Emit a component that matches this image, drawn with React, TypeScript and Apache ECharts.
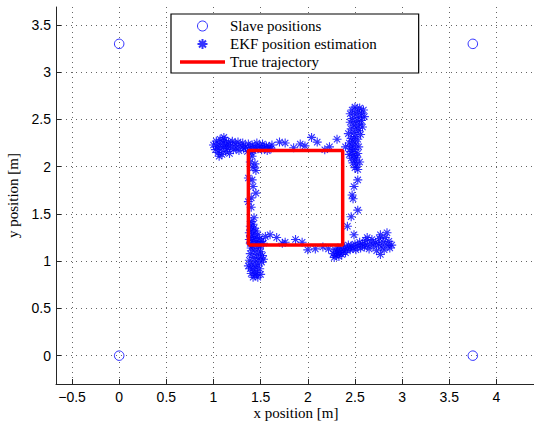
import React, { useEffect, useRef } from "react";
import * as echarts from "echarts";

const xTickValues = [-0.5, 0, 0.5, 1, 1.5, 2, 2.5, 3, 3.5, 4];
const yTickValues = [0, 0.5, 1, 1.5, 2, 2.5, 3, 3.5];

const slavePositions = [
  [0, 3.3],
  [3.75, 3.3],
  [0, 0],
  [3.75, 0],
];

const trueTrajectory = [
  [1.37, 1.17],
  [1.37, 2.17],
  [2.37, 2.17],
  [2.37, 1.17],
  [1.37, 1.17],
];

// top-left horizontal band
const ekfTopLeft = [
  [1.0, 2.23], [1.02, 2.18], [1.03, 2.27], [1.04, 2.21], [1.05, 2.15], [1.06, 2.24], [1.07, 2.29],
  [1.08, 2.19], [1.09, 2.13], [1.1, 2.25], [1.11, 2.21], [1.12, 2.28], [1.13, 2.16], [1.14, 2.23],
  [1.15, 2.19], [1.16, 2.26], [1.17, 2.14], [1.18, 2.22], [1.2, 2.27], [1.21, 2.18], [1.23, 2.24],
  [1.24, 2.2], [1.26, 2.26], [1.27, 2.17], [1.29, 2.22], [1.31, 2.25], [1.32, 2.19], [1.34, 2.21],
  [1.36, 2.16], [1.37, 2.24], [1.39, 2.2], [1.41, 2.23], [1.42, 2.17], [1.44, 2.21], [1.46, 2.25],
  [1.47, 2.19], [1.49, 2.22], [1.51, 2.18], [1.52, 2.24], [1.54, 2.2], [1.56, 2.22], [1.57, 2.17],
  [1.59, 2.21], [1.61, 2.19], [1.62, 2.23], [1.11, 2.31], [1.06, 2.11],
];
// sparse top
const ekfTop = [
  [1.7, 2.26], [1.76, 2.25], [1.85, 2.2], [1.92, 2.24], [1.97, 2.22], [2.04, 2.31], [2.1, 2.26],
  [2.18, 2.18], [2.23, 2.21], [2.31, 2.29], [2.4, 2.21],
];
// right upper vertical band
const ekfRightUpper = [
  [2.5, 2.63], [2.55, 2.62], [2.59, 2.6], [2.47, 2.6], [2.53, 2.58], [2.57, 2.56], [2.45, 2.56],
  [2.5, 2.55], [2.6, 2.53], [2.54, 2.52], [2.47, 2.51], [2.57, 2.49], [2.51, 2.48], [2.45, 2.47],
  [2.55, 2.45], [2.49, 2.44], [2.58, 2.42], [2.52, 2.41], [2.46, 2.4], [2.54, 2.38], [2.49, 2.36],
  [2.43, 2.35], [2.56, 2.34], [2.5, 2.32], [2.46, 2.3], [2.53, 2.29], [2.48, 2.27], [2.44, 2.25],
  [2.51, 2.24], [2.47, 2.22], [2.54, 2.21], [2.45, 2.19], [2.5, 2.18], [2.47, 2.16], [2.53, 2.14],
  [2.44, 2.13], [2.49, 2.12], [2.52, 2.1], [2.46, 2.09], [2.5, 2.07], [2.55, 2.05], [2.48, 2.04],
  [2.52, 2.02], [2.5, 1.99], [2.53, 1.97],
];
// right sparse vertical
const ekfRight = [
  [2.53, 1.86], [2.49, 1.79], [2.47, 1.7], [2.48, 1.66], [2.53, 1.54], [2.46, 1.47], [2.42, 1.37],
  [2.49, 1.28],
];
// bottom-right horizontal band
const ekfBottomRight = [
  [2.27, 1.08], [2.28, 1.04], [2.29, 1.12], [2.3, 1.06], [2.31, 1.1], [2.32, 1.14], [2.33, 1.05],
  [2.34, 1.09], [2.35, 1.13], [2.36, 1.07], [2.38, 1.11], [2.39, 1.15], [2.4, 1.09], [2.42, 1.13],
  [2.43, 1.17], [2.45, 1.12], [2.46, 1.16], [2.48, 1.14], [2.5, 1.18], [2.51, 1.12], [2.53, 1.16],
  [2.55, 1.2], [2.56, 1.14], [2.58, 1.18], [2.6, 1.15], [2.61, 1.22], [2.63, 1.17], [2.63, 1.25],
  [2.65, 1.13], [2.67, 1.19], [2.68, 1.23], [2.7, 1.16], [2.72, 1.2], [2.73, 1.11], [2.75, 1.18],
  [2.76, 1.24], [2.77, 1.07], [2.77, 1.28], [2.78, 1.15], [2.8, 1.2], [2.81, 1.12], [2.82, 1.25],
  [2.84, 1.3], [2.84, 1.17], [2.86, 1.21], [2.87, 1.14], [2.89, 1.17],
];
// bottom sparse
const ekfBottom = [
  [1.55, 1.26], [1.6, 1.28], [1.67, 1.25], [1.73, 1.19], [1.76, 1.2], [1.87, 1.23], [1.94, 1.2],
  [2.0, 1.12], [2.08, 1.13], [2.16, 1.15], [2.22, 1.13],
];
// bottom-left corner blob
const ekfCorner = [
  [1.4, 1.42], [1.42, 1.39], [1.39, 1.37], [1.43, 1.35], [1.4, 1.33], [1.45, 1.32], [1.38, 1.3],
  [1.42, 1.29], [1.47, 1.28], [1.4, 1.26], [1.44, 1.25], [1.49, 1.24], [1.38, 1.23], [1.42, 1.22],
  [1.46, 1.21], [1.51, 1.21], [1.39, 1.19], [1.44, 1.18], [1.48, 1.18], [1.53, 1.19], [1.41, 1.16],
  [1.5, 1.16],
];
// bottom-left lower vertical band
const ekfLeftLower = [
  [1.4, 1.14], [1.47, 1.13], [1.43, 1.11], [1.5, 1.1], [1.39, 1.08], [1.46, 1.07], [1.52, 1.06],
  [1.42, 1.04], [1.48, 1.03], [1.38, 1.01], [1.45, 1.0], [1.51, 0.99], [1.41, 0.97], [1.47, 0.96],
  [1.44, 0.94], [1.39, 0.92], [1.49, 0.92], [1.43, 0.9], [1.46, 0.88], [1.4, 0.87], [1.5, 0.86],
  [1.44, 0.85], [1.47, 0.83], [1.42, 0.83], [1.53, 1.02], [1.37, 0.95],
];
// left sparse vertical
const ekfLeft = [
  [1.4, 2.15], [1.41, 2.11], [1.39, 2.05], [1.44, 2.03], [1.42, 1.99], [1.45, 1.96], [1.41, 1.86],
  [1.37, 1.88], [1.42, 1.79], [1.45, 1.72], [1.4, 1.67], [1.37, 1.63], [1.4, 1.57], [1.43, 1.46],
];

const ekfEstimates = [
  ...ekfTopLeft,
  ...ekfTop,
  ...ekfRightUpper,
  ...ekfRight,
  ...ekfBottomRight,
  ...ekfBottom,
  ...ekfCorner,
  ...ekfLeftLower,
  ...ekfLeft,
];

const STAR = "path://M0,5L10,5M5,0L5,10M1.5,1.5L8.5,8.5M8.5,1.5L1.5,8.5";
const LINE_ICON = "path://M0,0L45,0L45,3.5L0,3.5Z";

const fmt = (v: number) => (v < 0 ? "\u2212" + String(-v) : String(v));

export default function App() {
  const ref = useRef<HTMLDivElement>(null);
  useEffect(() => {
    if (!ref.current) return;
    const chart = echarts.init(ref.current, null, { renderer: "svg" });
    const gridLine = { show: true, lineStyle: { color: "#666", width: 1, type: [1, 4] as any } };
    const axisLine = { show: true, onZero: false, lineStyle: { color: "#262626", width: 1 } };
    chart.setOption({
      animation: false,
      backgroundColor: "#fff",
      grid: { left: 56, top: 7, width: 480, height: 377, outerBoundsMode: "none", containLabel: false },
      legend: {
        orient: "vertical",
        left: 171,
        top: 14,
        padding: [4, 42, 3, 9],
        itemWidth: 45,
        itemHeight: 10,
        itemGap: 2,
        backgroundColor: "#fff",
        borderColor: "#000",
        borderWidth: 1.2,
        textStyle: { fontFamily: "Liberation Serif", fontSize: 15, color: "#000", lineHeight: 16 },
        data: [
          {
            name: "Slave positions",
            icon: "circle",
            itemStyle: { color: "rgba(0,0,0,0)", borderColor: "#0000ff", borderWidth: 1 },
          },
          { name: "EKF position estimation" },
          { name: "True trajectory", icon: LINE_ICON, itemStyle: { color: "#ff0000", borderWidth: 0 } },
        ],
      },
      xAxis: {
        type: "value",
        min: -0.67,
        max: 4.42,
        axisLine,
        axisTick: { show: true, inside: true, length: 5, customValues: xTickValues, lineStyle: { color: "#262626" } },
        axisLabel: {
          customValues: xTickValues,
          formatter: fmt,
          fontFamily: "Liberation Sans",
          fontSize: 14,
          color: "#000",
          margin: 6,
        },
        splitLine: gridLine,
        name: "x position [m]",
        nameLocation: "middle",
        nameGap: 21,
        nameMoveOverlap: false,
        nameTextStyle: { fontFamily: "Liberation Serif", fontSize: 15, color: "#000", verticalAlign: "top" },
      },
      yAxis: {
        type: "value",
        min: -0.3,
        max: 3.69,
        axisLine,
        axisTick: { show: true, inside: true, length: 5, customValues: yTickValues, lineStyle: { color: "#262626" } },
        axisLabel: {
          customValues: yTickValues,
          formatter: fmt,
          fontFamily: "Liberation Sans",
          fontSize: 14,
          color: "#000",
          margin: 5,
        },
        splitLine: gridLine,
        name: "y position [m]",
        nameLocation: "middle",
        nameGap: 36,
        nameMoveOverlap: false,
        nameTextStyle: { fontFamily: "Liberation Serif", fontSize: 15, color: "#000" },
      },
      series: [
        {
          name: "Slave positions",
          type: "scatter",
          symbol: "circle",
          symbolSize: 9.5,
          itemStyle: { color: "rgba(0,0,0,0)", borderColor: "#0000ff", borderWidth: 1 },
          data: slavePositions,
          z: 3,
        },
        {
          name: "EKF position estimation",
          type: "scatter",
          symbol: STAR,
          symbolSize: 9,
          itemStyle: { color: "#0000ff", borderColor: "#0000ff", borderWidth: 1.1 },
          data: ekfEstimates,
          z: 4,
        },
        {
          name: "True trajectory",
          type: "line",
          symbol: "none",
          showSymbol: false,
          lineStyle: { color: "#ff0000", width: 3.5 },
          itemStyle: { color: "#ff0000" },
          data: trueTrajectory,
          z: 5,
        },
      ],
    });
    return () => chart.dispose();
  }, []);
  return (
    <div
      ref={ref}
      style={{ position: "fixed", left: 0, top: 0, width: 534, height: 421, background: "#fff" }}
    />
  );
}
